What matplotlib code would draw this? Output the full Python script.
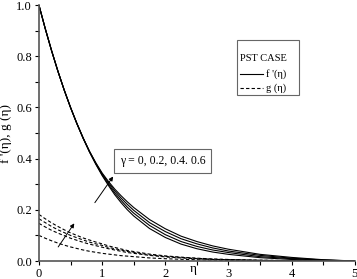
import numpy as np
import matplotlib
matplotlib.use('Agg')
import matplotlib.pyplot as plt

plt.rcParams['font.family'] = ['Liberation Serif', 'DejaVu Serif']

eta = [0, 0.1, 0.2, 0.3, 0.4, 0.5, 0.6, 0.7, 0.8, 0.9, 1.0, 1.1, 1.2, 1.3, 1.4, 1.5,
       1.75, 2.0, 2.25, 2.5, 2.75, 3.0, 3.5, 4.0, 4.5, 5.0]

# f'(eta) for gamma = 0, 0.2, 0.4, 0.6
fp_g0 = [1, 0.908, 0.822, 0.742, 0.668, 0.600, 0.537, 0.479, 0.426, 0.378, 0.334, 0.295, 0.259,
         0.228, 0.200, 0.176, 0.127, 0.092, 0.066, 0.048, 0.035, 0.026, 0.013, 0.006, 0.002, 0]
fp_g2 = [1, 0.908, 0.822, 0.742, 0.668, 0.600, 0.537, 0.480, 0.427, 0.380, 0.337, 0.300, 0.266,
         0.237, 0.210, 0.187, 0.139, 0.103, 0.076, 0.057, 0.043, 0.033, 0.017, 0.009, 0.003, 0]
fp_g4 = [1, 0.908, 0.822, 0.742, 0.668, 0.600, 0.538, 0.480, 0.428, 0.382, 0.341, 0.306, 0.274,
         0.246, 0.221, 0.198, 0.150, 0.115, 0.087, 0.067, 0.051, 0.039, 0.022, 0.011, 0.004, 0]
fp_g6 = [1, 0.908, 0.822, 0.742, 0.668, 0.600, 0.538, 0.481, 0.429, 0.384, 0.344, 0.311, 0.281,
         0.255, 0.231, 0.209, 0.162, 0.126, 0.097, 0.076, 0.059, 0.046, 0.026, 0.014, 0.005, 0]

# g(eta) for gamma = 0, 0.2, 0.4, 0.6
g_g0 = [0.100, 0.089, 0.079, 0.070, 0.062, 0.055, 0.049, 0.043, 0.038, 0.034, 0.030, 0.027, 0.024,
        0.021, 0.019, 0.017, 0.012, 0.009, 0.0067, 0.005, 0.0037, 0.0027, 0.0015, 0.0008, 0.0004, 0]
g_g2 = [0.147, 0.133, 0.120, 0.109, 0.099, 0.089, 0.081, 0.073, 0.066, 0.060, 0.054, 0.048, 0.043,
        0.038, 0.033, 0.030, 0.022, 0.016, 0.012, 0.009, 0.006, 0.005, 0.0024, 0.0012, 0.0006, 0]
g_g4 = [0.165, 0.150, 0.135, 0.122, 0.111, 0.100, 0.091, 0.082, 0.074, 0.067, 0.061, 0.053, 0.048,
        0.043, 0.037, 0.034, 0.024, 0.018, 0.014, 0.010, 0.007, 0.005, 0.003, 0.0014, 0.0006, 0]
g_g6 = [0.182, 0.165, 0.149, 0.135, 0.122, 0.110, 0.100, 0.090, 0.082, 0.074, 0.067, 0.059, 0.053,
        0.047, 0.041, 0.037, 0.027, 0.020, 0.015, 0.011, 0.008, 0.006, 0.003, 0.0015, 0.0007, 0]

fig = plt.figure(figsize=(3.57, 2.79), dpi=100)
ax = fig.add_axes([0.109, 0.0645, 0.885, 0.9175])

lw = 0.8
dash = (0, (3, 2))
for fp in [fp_g0, fp_g2, fp_g4, fp_g6]:
    ax.plot(eta, fp, color='black', lw=lw)
for g in [g_g0, g_g2, g_g4, g_g6]:
    ax.plot(eta, g, color='black', lw=lw, ls=dash)

ax.set_xlim(0, 5)
ax.set_ylim(0, 1)
ax.set_xticks(np.arange(0, 6, 1))
ax.set_xticks(np.arange(0.5, 5, 1), minor=True)
ax.set_yticks(np.arange(0, 1.01, 0.2))
ax.set_yticks(np.arange(0.1, 1, 0.2), minor=True)
ax.set_yticklabels(['0.0', '0.2', '0.4', '0.6', '0.8', '1.0'])
ax.tick_params(which='both', direction='out', length=3, width=0.8, labelsize=9, pad=2)

for s in ['top', 'right']:
    ax.spines[s].set_visible(False)
for s in ['left', 'bottom']:
    ax.spines[s].set_color('#555555')
    ax.spines[s].set_linewidth(1.2)

ax.set_ylabel("f '(η), g (η)", fontsize=9.5)
ax.yaxis.set_label_coords(-0.085, 0.5)
ax.text(2.45, -0.03, 'η', fontsize=9.5, ha='center', va='center')

# legend box
ax.text(0.635, 0.79, 'PST CASE', transform=ax.transAxes, fontsize=7.5, ha='left', va='center')
ax.plot([0.635, 0.71], [0.73, 0.73], transform=ax.transAxes, color='black', lw=lw)
ax.text(0.72, 0.73, "f '(η)", transform=ax.transAxes, fontsize=7.5, ha='left', va='center')
ax.plot([0.635, 0.71], [0.675, 0.675], transform=ax.transAxes, color='black', lw=lw, ls=dash)
ax.text(0.72, 0.675, 'g (η)', transform=ax.transAxes, fontsize=7.5, ha='left', va='center')
ax.add_patch(plt.Rectangle((0.628, 0.648), 0.196, 0.215, transform=ax.transAxes,
                           fill=False, ec='#666666', lw=0.8))

ax.text(1.28, 0.39, 'γ = 0, 0.2, 0.4. 0.6', fontsize=8.5, ha='left', va='center',
        bbox=dict(boxstyle='square,pad=0.5', fc='white', ec='#666666', lw=0.8))

ax.annotate('', xy=(1.2, 0.339), xytext=(0.86, 0.219),
            arrowprops=dict(arrowstyle='-|>', color='black', lw=0.7, mutation_scale=6))
ax.annotate('', xy=(0.585, 0.156), xytext=(0.28, 0.046),
            arrowprops=dict(arrowstyle='-|>', color='black', lw=0.7, mutation_scale=6))

fig.savefig('out.png', dpi=100)
